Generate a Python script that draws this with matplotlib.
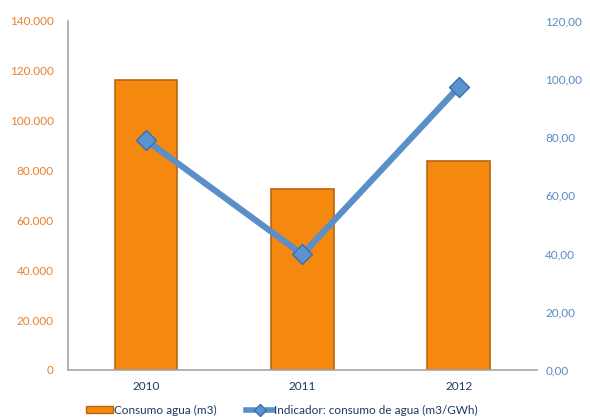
import numpy as np
import matplotlib.pyplot as plt
from matplotlib.ticker import FuncFormatter
from matplotlib.lines import Line2D
from matplotlib.patches import Patch

plt.rcParams['font.family'] = ['Lato', 'DejaVu Sans']

years = ['2010', '2011', '2012']
consumo = [116200, 72400, 83700]          # m3
indicador = [79.0, 39.7, 97.2]            # m3/GWh

orange = '#F5890F'
blue = '#5A8FC8'

fig = plt.figure(figsize=(5.9, 4.17), dpi=100)
ax = fig.add_axes([0.115, 0.113, 0.795, 0.837])
x = np.arange(len(years))

ax.bar(x, consumo, width=0.4, color=orange, edgecolor='#B8650F',
       linewidth=1.2, zorder=2)
ax.set_xlim(-0.5, 2.5)
ax.set_ylim(0, 140000)
ax.set_yticks(np.arange(0, 140001, 20000))
ax.yaxis.set_major_formatter(FuncFormatter(lambda v, p: f'{int(v):,}'.replace(',', '.')))
ax.set_xticks(x)
ax.set_xticklabels(years)
ax.tick_params(axis='y', length=0, colors='#E8802A', labelsize=8.5, pad=10)
ax.tick_params(axis='x', length=0, colors='#1F3864', labelsize=8.5, pad=8)
for s in ['top', 'right']:
    ax.spines[s].set_visible(False)
ax.spines['left'].set_color('#A6A6A6')
ax.spines['bottom'].set_color('#A6A6A6')
ax.spines['left'].set_linewidth(1.2)
ax.spines['bottom'].set_linewidth(1.2)

ax2 = ax.twinx()
ax2.plot(x, indicador, color=blue, linewidth=4.5, marker='D', markersize=10.5,
         markerfacecolor='#5B93D0', markeredgecolor='#3F6FA8', zorder=3)
ax2.set_ylim(0, 120)
ax2.set_yticks(np.arange(0, 121, 20))
ax2.yaxis.set_major_formatter(FuncFormatter(lambda v, p: f'{v:.2f}'.replace('.', ',')))
ax2.tick_params(axis='y', length=0, colors='#5B8AC5', labelsize=8.5, pad=6)
for s in ['top', 'right', 'left', 'bottom']:
    ax2.spines[s].set_visible(False)

h_bar = Patch(facecolor=orange, edgecolor='#B8650F', linewidth=1)
h_line = Line2D([], [], color=blue, linewidth=4, marker='D', markersize=6.5,
                markerfacecolor='#5B93D0', markeredgecolor='#3F6FA8')
leg = fig.legend([h_bar, h_line], ['Consumo agua (m3)', 'Indicador: consumo de agua (m3/GWh)'],
                 loc='lower left', bbox_to_anchor=(0.128, -0.022), ncol=2, frameon=False,
                 fontsize=8.5, handlelength=2.3, handleheight=0.55, handletextpad=0.05,
                 columnspacing=2.5)
for t in leg.get_texts():
    t.set_color('#1F3864')

fig.savefig('out.png', dpi=100)
